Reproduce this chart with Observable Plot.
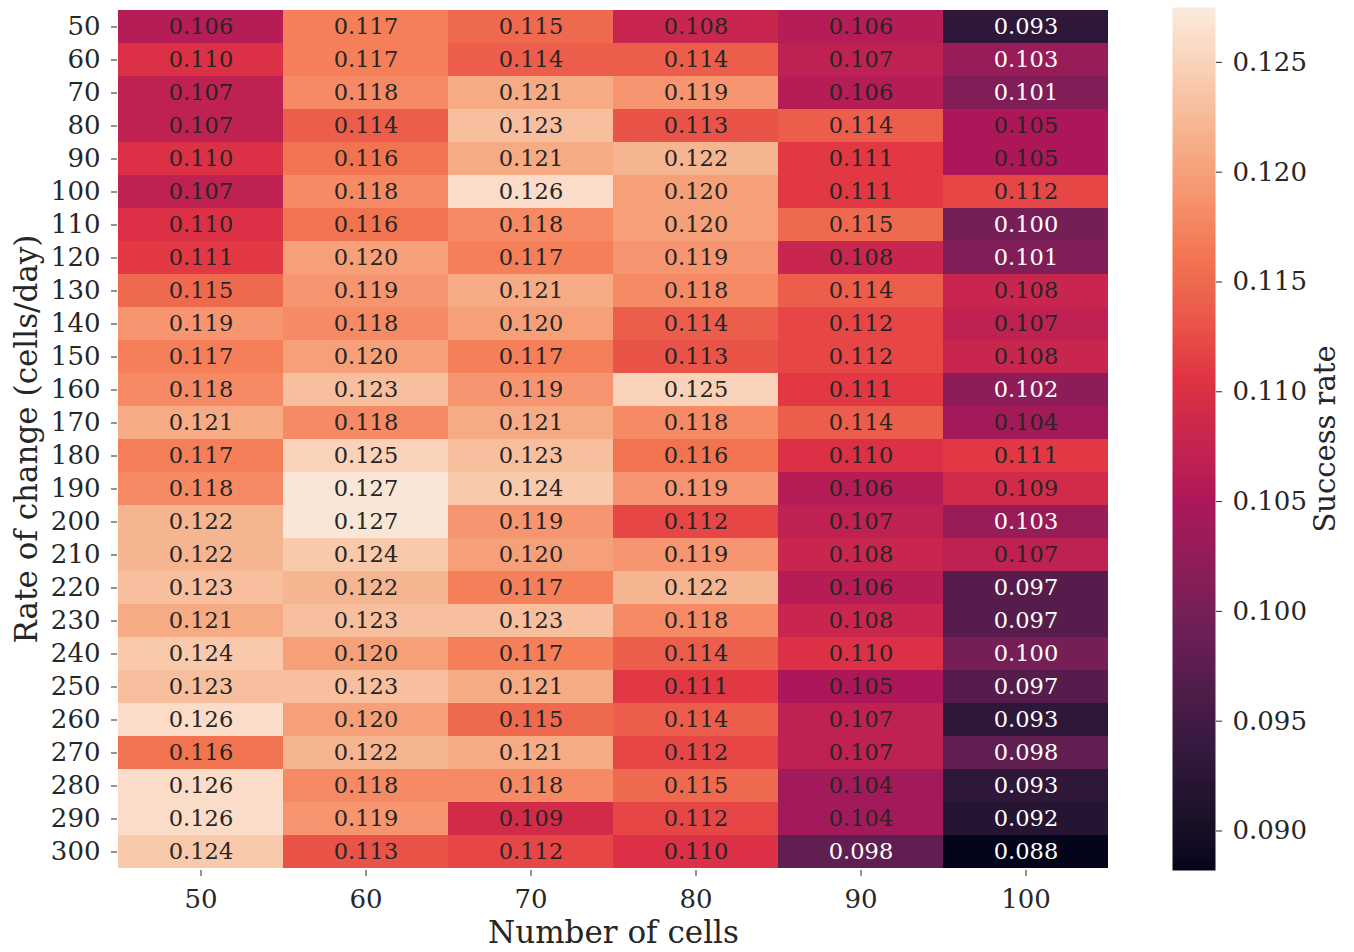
<!DOCTYPE html>
<html>
<head>
<meta charset="utf-8">
<script src="https://cdn.jsdelivr.net/npm/d3@7"></script>
<script src="https://cdn.jsdelivr.net/npm/@observablehq/plot@0.6"></script>
<style>
  html, body { margin: 0; padding: 0; background: #fff; }
  #chart { position: relative; width: 1354px; height: 952px; font-family: "DejaVu Serif", serif; }
  #chart > svg { position: absolute; top: 0; }
</style>
</head>
<body>
<div id="chart"></div>
<script>
// Number of cells (columns) and rate of change in cells/day (rows)
const cellCounts = [50, 60, 70, 80, 90, 100];
const rates = [50, 60, 70, 80, 90, 100, 110, 120, 130, 140, 150, 160, 170,
               180, 190, 200, 210, 220, 230, 240, 250, 260, 270, 280, 290, 300];

// Success rate, one row per rate of change, one column per number of cells
const successRate = [
  [0.106, 0.117, 0.115, 0.108, 0.106, 0.093],
  [0.110, 0.117, 0.114, 0.114, 0.107, 0.103],
  [0.107, 0.118, 0.121, 0.119, 0.106, 0.101],
  [0.107, 0.114, 0.123, 0.113, 0.114, 0.105],
  [0.110, 0.116, 0.121, 0.122, 0.111, 0.105],
  [0.107, 0.118, 0.126, 0.120, 0.111, 0.112],
  [0.110, 0.116, 0.118, 0.120, 0.115, 0.100],
  [0.111, 0.120, 0.117, 0.119, 0.108, 0.101],
  [0.115, 0.119, 0.121, 0.118, 0.114, 0.108],
  [0.119, 0.118, 0.120, 0.114, 0.112, 0.107],
  [0.117, 0.120, 0.117, 0.113, 0.112, 0.108],
  [0.118, 0.123, 0.119, 0.125, 0.111, 0.102],
  [0.121, 0.118, 0.121, 0.118, 0.114, 0.104],
  [0.117, 0.125, 0.123, 0.116, 0.110, 0.111],
  [0.118, 0.127, 0.124, 0.119, 0.106, 0.109],
  [0.122, 0.127, 0.119, 0.112, 0.107, 0.103],
  [0.122, 0.124, 0.120, 0.119, 0.108, 0.107],
  [0.123, 0.122, 0.117, 0.122, 0.106, 0.097],
  [0.121, 0.123, 0.123, 0.118, 0.108, 0.097],
  [0.124, 0.120, 0.117, 0.114, 0.110, 0.100],
  [0.123, 0.123, 0.121, 0.111, 0.105, 0.097],
  [0.126, 0.120, 0.115, 0.114, 0.107, 0.093],
  [0.116, 0.122, 0.121, 0.112, 0.107, 0.098],
  [0.126, 0.118, 0.118, 0.115, 0.104, 0.093],
  [0.126, 0.119, 0.109, 0.112, 0.104, 0.092],
  [0.124, 0.113, 0.112, 0.110, 0.098, 0.088]
];

// Colour bar range and ticks
const colorDomain = [0.0882, 0.1275];
const colorTicks = [0.090, 0.095, 0.100, 0.105, 0.110, 0.115, 0.120, 0.125];
// Annotations on cells at or below this value are drawn in white
const lightTextMax = 0.1035;

// "rocket" colour map
const rocketStops = ["#03051a", "#35193e", "#701f57", "#ad1759", "#e13342", "#f37651", "#f6b48f", "#faebdd"];
const rocket = d3.piecewise(d3.interpolateLab, rocketStops);

const table = [];
rates.forEach((r, i) => cellCounts.forEach((c, j) => table.push({rate: r, cells: c, value: successRate[i][j]})));

const font = "DejaVu Serif";
const ink = "#262626";
const W = 1354, H = 952;
const mTop = 7, mBottom = 82, mLeft = 117, mRight = 245;

const heat = Plot.plot({
  width: W, height: H,
  marginTop: mTop, marginBottom: mBottom, marginLeft: mLeft, marginRight: mRight,
  style: {fontFamily: font, background: "transparent", overflow: "visible"},
  x: {type: "band", domain: cellCounts, padding: 0},
  y: {type: "band", domain: rates, padding: 0},
  color: {type: "linear", domain: colorDomain, interpolate: rocket, clamp: true},
  marks: [
    Plot.cell(table, {x: "cells", y: "rate", fill: "value", inset: 0, shapeRendering: "crispEdges"}),
    Plot.text(table, {
      x: "cells", y: "rate", text: d => d.value.toFixed(3),
      fill: d => d.value <= lightTextMax ? "#ffffff" : ink,
      fontSize: 22.5, fontFamily: font
    }),
    Plot.axisX({anchor: "bottom", tickSize: 6, tickPadding: 13, fontSize: 26, label: null, stroke: ink, fill: ink}),
    Plot.axisY({anchor: "left", tickSize: 6, tickPadding: 11, fontSize: 26, label: null, stroke: ink, fill: ink}),
    Plot.text(["Number of cells"], {frameAnchor: "bottom", lineAnchor: "middle", textAnchor: "middle", dy: 63, fontSize: 31, fill: ink, fontFamily: font}),
    Plot.text(["Rate of change (cells/day)"], {frameAnchor: "left", lineAnchor: "middle", textAnchor: "middle", dx: -90, rotate: -90, fontSize: 31, fill: ink, fontFamily: font})
  ]
});
heat.style.left = "0px";

// Colour bar: a vertical ramp of the same colour scale with its own axis
const cbLeft = 1172, cbWidth = 43;
const bar = Plot.plot({
  width: W - cbLeft, height: H,
  marginTop: mTop, marginBottom: mBottom, marginLeft: 0, marginRight: W - cbLeft - cbWidth,
  style: {fontFamily: font, background: "transparent", overflow: "visible"},
  x: {domain: [0, 1], axis: null},
  y: {domain: colorDomain},
  color: {type: "linear", domain: colorDomain, interpolate: rocket, clamp: true},
  marks: [
    Plot.raster({x1: 0, x2: 1, y1: colorDomain[0], y2: colorDomain[1], width: 1, height: 256, fill: (x, y) => y, imageRendering: "pixelated"}),
    Plot.axisY({anchor: "right", ticks: colorTicks, tickFormat: d3.format(".3f"), tickSize: 6, tickPadding: 11, fontSize: 26, label: null, stroke: ink, fill: ink}),
    Plot.text(["Success rate"], {frameAnchor: "right", lineAnchor: "middle", textAnchor: "middle", dx: 110, rotate: -90, fontSize: 29, fill: ink, fontFamily: font})
  ]
});
bar.style.left = cbLeft + "px";

const chart = document.getElementById("chart");
chart.append(heat, bar);
</script>
</body>
</html>
